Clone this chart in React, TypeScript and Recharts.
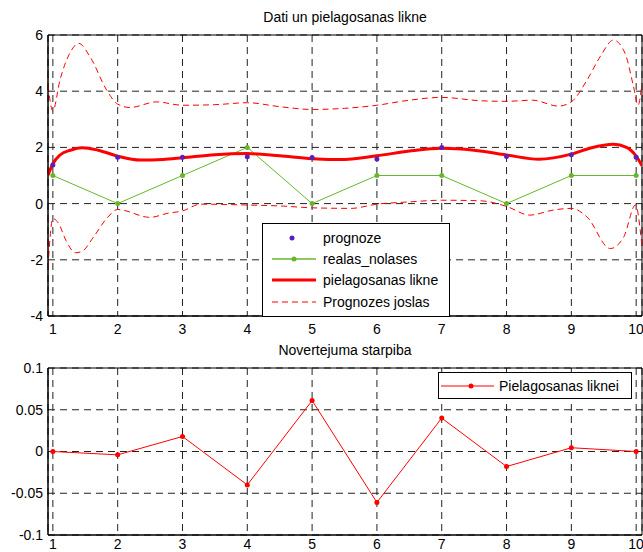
import React from "react";
import { LineChart, Line, XAxis, YAxis, CartesianGrid, ReferenceArea } from "recharts";

// x positions of the measurements
const categories = [1, 2, 3, 4, 5, 6, 7, 8, 9, 10];
const realasNolases = [1, 0, 1, 2, 0, 1, 1, 0, 1, 1];
const prognoze = [1.37, 1.65, 1.65, 1.67, 1.64, 1.59, 2.0, 1.68, 1.74, 1.65];
const starpiba = [0.0, -0.004, 0.018, -0.04, 0.061, -0.061, 0.04, -0.018, 0.0045, 0.0];

// fitted curve
const likneX = [0.925, 1, 1.11, 1.27, 1.45, 1.7, 2, 2.35, 2.7, 3, 3.5, 4, 4.5, 5, 5.5, 6, 6.5, 7, 7.5, 8, 8.5, 9, 9.3, 9.65, 9.85, 10, 10.09];
const likneY = [1.01, 1.42, 1.73, 1.9, 1.99, 1.9, 1.69, 1.55, 1.57, 1.63, 1.74, 1.78, 1.7, 1.6, 1.57, 1.7, 1.87, 1.97, 1.9, 1.73, 1.58, 1.76, 1.98, 2.11, 2.0, 1.69, 1.35];

// prediction band
const augsaX = [0.925, 1, 1.11, 1.25, 1.4, 1.58, 1.83, 2, 2.19, 2.6, 3, 3.5, 4, 4.5, 5, 5.5, 6, 6.5, 7, 7.6, 8, 8.4, 8.8, 9, 9.24, 9.45, 9.65, 9.83, 9.96, 10.03, 10.09];
const augsaY = [4.2, 3.3, 4.4, 5.3, 5.7, 5.2, 4.04, 3.54, 3.42, 3.62, 3.5, 3.52, 3.59, 3.45, 3.35, 3.39, 3.5, 3.68, 3.78, 3.66, 3.64, 3.68, 3.47, 3.62, 4.39, 5.25, 5.82, 5.34, 4.16, 3.5, 4.3];
const apaksaX = [0.925, 1, 1.09, 1.2, 1.35, 1.45, 1.63, 1.83, 2, 2.5, 2.76, 3, 3.28, 4, 4.56, 5, 5.6, 6, 6.5, 7, 7.6, 8, 8.36, 8.72, 9, 9.24, 9.6, 9.81, 9.99, 10.09];
const apaksaY = [-2.25, -0.53, -0.71, -1.3, -1.75, -1.7, -1.18, -0.53, -0.21, -0.49, -0.35, -0.26, -0.02, -0.05, -0.09, -0.15, -0.17, -0.02, 0.06, 0.12, 0.1, -0.1, -0.41, -0.23, -0.17, -0.47, -1.6, -1.18, -0.05, -1.54];

const topTicks = [-4, -2, 0, 2, 4, 6];
const bottomTicks = [-0.1, -0.05, 0, 0.05, 0.1];
const xDomain = [0.925, 10.09];

const toPoints = (xs: number[], ys: number[]) => xs.map((x, i) => ({ x, y: ys[i] }));

const realasData = toPoints(categories, realasNolases);
const prognozeData = toPoints(categories, prognoze);
const likneData = toPoints(likneX, likneY);
const augsaData = toPoints(augsaX, augsaY);
const apaksaData = toPoints(apaksaX, apaksaY);
const starpibaData = toPoints(categories, starpiba);

const FONT = '"Liberation Sans", Arial, sans-serif';
const GREEN = "#66b82a";
const PURPLE = "#5b1fc0";
const RED = "#ff0000";
const tickStyle = { fontSize: 14, fill: "#000", fontFamily: FONT };

const legendRow = (top: number, sample: React.ReactNode, text: string) => (
  <div style={{ position: "absolute", left: 0, top: top - 10, height: 20, display: "flex", alignItems: "center" }}>
    <svg width={58} height={20} style={{ display: "block" }}>{sample}</svg>
    <span style={{ fontSize: 14, marginLeft: 2 }}>{text}</span>
  </div>
);

export default function App() {
  return (
    <div style={{ position: "absolute", left: 0, top: 0, width: 643, height: 552, background: "#fff", fontFamily: FONT, overflow: "hidden" }}>
      <div style={{ position: "absolute", left: 0, top: 9, width: 690, textAlign: "center", fontSize: 14 }}>
        Dati un pielagosanas likne
      </div>
      <div style={{ position: "absolute", left: 0, top: 0 }}>
        <LineChart width={643} height={340} margin={{ top: 35, right: 1, bottom: 0, left: 0 }}>
          <CartesianGrid strokeDasharray="7 5" stroke="#222" />
          <XAxis
            dataKey="x"
            type="number"
            domain={xDomain}
            ticks={categories}
            allowDataOverflow
            height={24}
            tick={tickStyle}
            tickLine={false}
            axisLine={{ stroke: "#000" }}
          />
          <YAxis
            type="number"
            domain={[-4, 6]}
            ticks={topTicks}
            width={48}
            tick={tickStyle}
            tickLine={false}
            tickSize={5}
            tickMargin={0}
            axisLine={{ stroke: "#000" }}
          />
          <ReferenceArea x1={0.925} x2={10.09} y1={-4} y2={6} fill="none" stroke="#000" ifOverflow="visible" />
          <Line data={augsaData} dataKey="y" type="monotone" stroke={RED} strokeWidth={1} strokeDasharray="6 4" dot={false} isAnimationActive={false} />
          <Line data={apaksaData} dataKey="y" type="monotone" stroke={RED} strokeWidth={1} strokeDasharray="6 4" dot={false} isAnimationActive={false} />
          <Line data={realasData} dataKey="y" type="linear" stroke={GREEN} strokeWidth={1} dot={{ r: 2.5, fill: GREEN, stroke: GREEN, strokeWidth: 0 }} isAnimationActive={false} />
          <Line data={likneData} dataKey="y" type="monotone" stroke={RED} strokeWidth={3} dot={false} isAnimationActive={false} />
          <Line data={prognozeData} dataKey="y" stroke="none" dot={{ r: 2.5, fill: PURPLE, stroke: PURPLE, strokeWidth: 0 }} isAnimationActive={false} />
        </LineChart>
      </div>
      <div style={{ position: "absolute", left: 262, top: 223, width: 186, height: 92, border: "1px solid #000", background: "#fff" }}>
        {legendRow(14, <circle cx={29} cy={10} r={2.5} fill={PURPLE} />, "prognoze")}
        {legendRow(35, <><line x1={9} y1={10} x2={53} y2={10} stroke={GREEN} strokeWidth={1.5} /><circle cx={31} cy={10} r={2.5} fill={GREEN} /></>, "realas_nolases")}
        {legendRow(56, <line x1={9} y1={10} x2={53} y2={10} stroke={RED} strokeWidth={3} />, "pielagosanas likne")}
        {legendRow(78, <line x1={9} y1={10} x2={53} y2={10} stroke={RED} strokeWidth={1} strokeDasharray="6 4" />, "Prognozes joslas")}
      </div>

      <div style={{ position: "absolute", left: 0, top: 342, width: 690, textAlign: "center", fontSize: 14 }}>
        Novertejuma starpiba
      </div>
      <div style={{ position: "absolute", left: 0, top: 330 }}>
        <LineChart width={643} height={222} margin={{ top: 38, right: 1, bottom: 0, left: 0 }}>
          <CartesianGrid strokeDasharray="7 5" stroke="#222" />
          <XAxis
            dataKey="x"
            type="number"
            domain={xDomain}
            ticks={categories}
            allowDataOverflow
            height={17}
            tick={tickStyle}
            tickLine={false}
            tickSize={3}
            tickMargin={1}
            axisLine={{ stroke: "#000" }}
          />
          <YAxis
            type="number"
            domain={[-0.1, 0.1]}
            ticks={bottomTicks}
            width={48}
            tick={tickStyle}
            tickLine={false}
            tickSize={5}
            tickMargin={0}
            axisLine={{ stroke: "#000" }}
          />
          <ReferenceArea x1={0.925} x2={10.09} y1={-0.1} y2={0.1} fill="none" stroke="#000" ifOverflow="visible" />
          <Line data={starpibaData} dataKey="y" type="linear" stroke={RED} strokeWidth={1} dot={{ r: 2.5, fill: RED, stroke: RED, strokeWidth: 0 }} isAnimationActive={false} />
        </LineChart>
      </div>
      <div style={{ position: "absolute", left: 438, top: 372, width: 192, height: 25, border: "1px solid #000", background: "#fff" }}>
        <div style={{ position: "absolute", left: 0, top: 3, height: 20, display: "flex", alignItems: "center" }}>
          <svg width={58} height={20} style={{ display: "block" }}>
            <line x1={2} y1={10} x2={55} y2={10} stroke={RED} strokeWidth={1} />
            <circle cx={32} cy={10} r={2.5} fill={RED} />
          </svg>
          <span style={{ fontSize: 14, marginLeft: 2 }}>Pielagosanas liknei</span>
        </div>
      </div>
    </div>
  );
}
